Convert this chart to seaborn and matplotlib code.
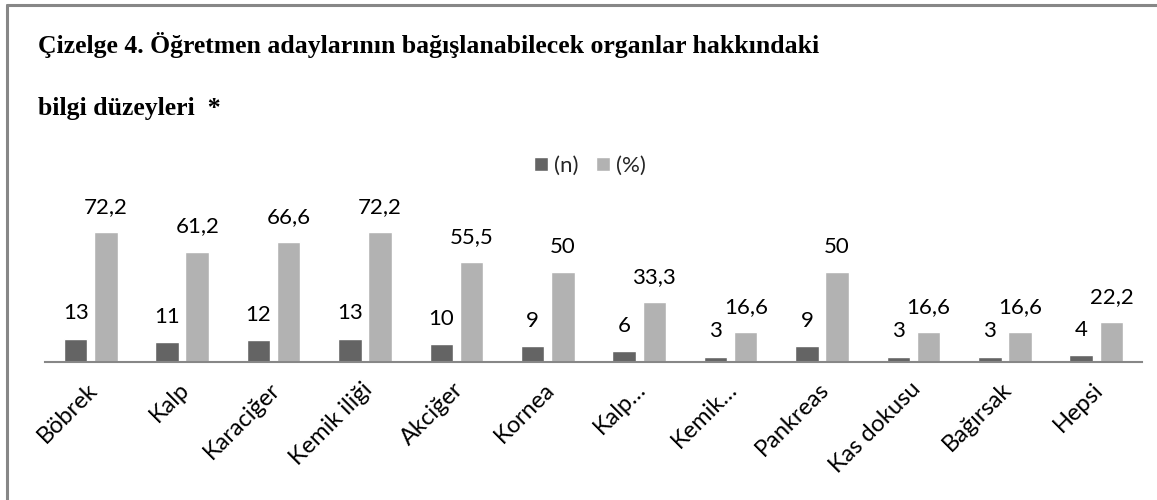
import matplotlib
matplotlib.use("Agg")
import matplotlib.pyplot as plt
from matplotlib.lines import Line2D
from matplotlib.patches import Patch
import matplotlib.transforms as mtransforms
import seaborn as sns
import pandas as pd

organs = ["Böbrek", "Kalp", "Karaciğer", "Kemik iliği", "Akciğer", "Kornea",
          "Kalp…", "Kemik…", "Pankreas", "Kas dokusu", "Bağırsak", "Hepsi"]
n_values = [13, 11, 12, 13, 10, 9, 6, 3, 9, 3, 3, 4]
pct_values = [72.2, 61.2, 66.6, 72.2, 55.5, 50, 33.3, 16.6, 50, 16.6, 16.6, 22.2]
series_names = ["(n)", "(%)"]
title_lines = ["Çizelge 4. Öğretmen adaylarının bağışlanabilecek organlar hakkındaki",
               "bilgi düzeyleri  *"]

df = pd.DataFrame({
    "organ": organs * 2,
    "value": n_values + pct_values,
    "series": [series_names[0]] * len(organs) + [series_names[1]] * len(organs),
})

sns.set_theme(style="white")
plt.rcParams["font.family"] = ["Lato", "DejaVu Sans"]

FS = 16
W, H = 1157, 500
fig = plt.figure(figsize=(W / 100, H / 100), dpi=100)
ax = fig.add_axes([45 / W, (H - 362) / H, (1142 - 45) / W, 144 / H])

sns.barplot(data=df, x="organ", y="value", hue="series", order=organs,
            hue_order=series_names, palette=["#646464", "#b2b2b2"],
            width=0.66, gap=0.22, ax=ax, legend=False, saturation=1)

ax.set_ylim(0, 80)
ax.set_xlim(-0.5, len(organs) - 0.5)
ax.set_xlabel("")
ax.set_ylabel("")
ax.set_yticks([])
for s in ["top", "right", "left"]:
    ax.spines[s].set_visible(False)
ax.spines["bottom"].set_color("#878787")
ax.spines["bottom"].set_linewidth(1.5)

def fmt(v):
    if float(v).is_integer():
        return str(int(v))
    return f"{v:.1f}".replace(".", ",")

for cont in ax.containers:
    ax.bar_label(cont, labels=[fmt(b.get_height()) for b in cont],
                 padding=11, fontsize=FS, color="black", clip_on=False)

ax.tick_params(axis="x", length=0, pad=12)
ax.set_xticks(range(len(organs)))
ax.set_xticklabels(organs, rotation=45, ha="right", va="top", rotation_mode="anchor",
                   fontsize=17, color="black")
shift = mtransforms.ScaledTranslation(-4 / 100, 0, fig.dpi_scale_trans)
for lbl in ax.get_xticklabels():
    lbl.set_transform(lbl.get_transform() + shift)

# legend
handles = [Patch(facecolor="#646464"), Patch(facecolor="#b2b2b2")]
fig.legend(handles, series_names, loc="center", bbox_to_anchor=(590 / W, 1 - 166 / H),
           ncol=2, frameon=False, fontsize=FS, handlelength=0.63, handleheight=0.63,
           handletextpad=0.3, columnspacing=0.75, borderpad=0)

# title
for i, t in enumerate(title_lines):
    fig.text(38 / W, 1 - (53 + i * 62) / H, t, fontsize=18.5, fontweight="bold",
             family=["Liberation Serif", "DejaVu Serif"], ha="left", va="baseline",
             color="black")

# frame lines (top and left)
fig.add_artist(Line2D([7 / W, 1], [1 - 5 / H, 1 - 5 / H], color="#878787", lw=2.2,
                      transform=fig.transFigure))
fig.add_artist(Line2D([7 / W, 7 / W], [0, 1 - 5 / H], color="#878787", lw=2.2,
                      transform=fig.transFigure))

fig.savefig("out.png", dpi=100, facecolor="white")
